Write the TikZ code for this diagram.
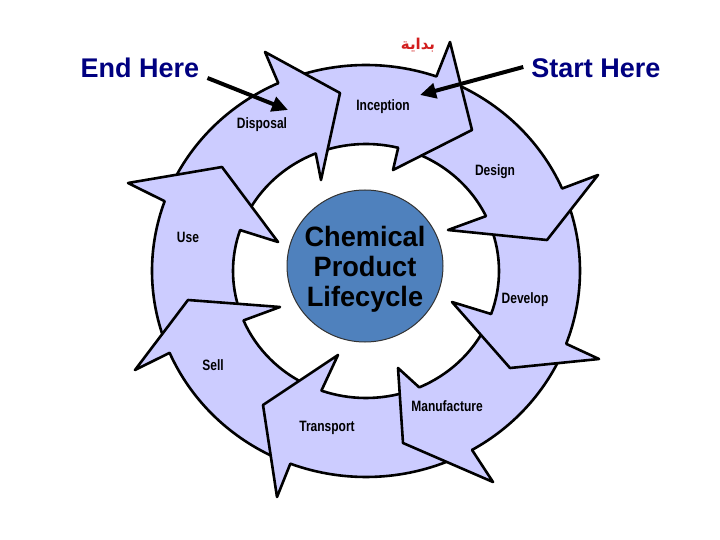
\documentclass[tikz,border=0pt]{standalone}
\usepackage{fontspec}
\setmainfont{Liberation Sans}
\newfontfamily\narrowfont{Liberation Sans}[FakeStretch=0.8]
\newfontfamily\centerfont{Liberation Sans}[FakeStretch=0.97]
\newfontfamily\arabicfont[Script=Arabic]{DejaVu Sans}
\TeXXeTstate=1
\usetikzlibrary{arrows.meta,calc,shapes.geometric}
\definecolor{ringfill}{RGB}{204,204,255}
\definecolor{navytext}{RGB}{0,0,128}
\definecolor{hubblue}{RGB}{79,129,189}
\definecolor{arabred}{RGB}{210,30,30}
% body of one ring arrow: #1 outer start, #2 inner start, #3 outer end, #4 inner end (compass degrees)
\newcommand{\ArrBody}[4]{%
  \fill[ringfill] ($(c)+({90-(#1)}:214pt and 206pt)$)
     arc[start angle={90-(#1)}, end angle={90-(#3)-0.8}, x radius=214pt, y radius=206pt]
     -- ($(c)+({90-(#4)-0.8}:133pt and 127pt)$)
     arc[start angle={90-(#4)-0.8}, end angle={90-(#2)}, x radius=133pt, y radius=127pt] -- cycle;
  \draw[ringline] ($(c)+({90-(#1)}:214pt and 206pt)$)
     arc[start angle={90-(#1)}, end angle={90-(#3)}, x radius=214pt, y radius=206pt];
  \draw[ringline] ($(c)+({90-(#2)}:133pt and 127pt)$)
     arc[start angle={90-(#2)}, end angle={90-(#4)}, x radius=133pt, y radius=127pt];
}
% head of one ring arrow: #1 outer base, #2 inner base (compass), #3 outer barb, #4 tip, #5 inner barb
\newcommand{\ArrHead}[5]{%
  \fill[ringfill] ($(c)+({90-(#1)}:214pt and 206pt)$) -- #3 -- #4 -- #5
     -- ($(c)+({90-(#2)}:133pt and 127pt)$) -- cycle;
  \draw[ringline] ($(c)+({90-(#1)}:214pt and 206pt)$) -- #3 -- #4 -- #5
     -- ($(c)+({90-(#2)}:133pt and 127pt)$);
}
\begin{document}
\begin{tikzpicture}[x=1pt,y=1pt,
  ringline/.style={line width=2.6pt, line cap=round, line join=round, draw=black},
  seglbl/.style={font=\narrowfont\bfseries\fontsize{15}{15}\selectfont, inner sep=0pt},
  herelbl/.style={font=\bfseries\fontsize{27}{27}\selectfont, text=navytext, inner sep=0pt, anchor=base},
  bigarrow/.style={line width=4pt, -{Triangle[length=16pt,width=15pt]}},
  hubstyle/.style={ellipse, draw=black!80, line width=1pt, fill=hubblue, minimum width=156pt, minimum height=152pt, inner sep=0pt},
]
\useasboundingbox (0,0) rectangle (720,-540);
\fill[white] (0,0) rectangle (720,-540);
\coordinate (c) at (366,-271);

% ring bodies
\ArrBody{-21}{-18.5}{19.2}{14}
\ArrBody{23.5}{21}{66.4}{64.4}
\ArrBody{69.8}{70}{110.7}{109.8}
\ArrBody{113.5}{115}{150.3}{156.4}
\ArrBody{153.4}{161}{200.7}{199.6}
\ArrBody{204}{205}{246.6}{247.1}
\ArrBody{250}{251.5}{289.8}{288.8}
\ArrBody{293.5}{295}{335.8}{337.8}

% ring heads
\ArrHead{19.2}{14}{(450,-42)}{(472,-130)}{(393,-170)}
\ArrHead{66.4}{64.4}{(598,-175)}{(547,-240)}{(448,-230)}
\ArrHead{110.7}{109.8}{(599,-359)}{(510,-368)}{(452,-302)}
\ArrHead{150.3}{156.4}{(493,-482)}{(403,-443)}{(398,-368)}
\ArrHead{200.7}{199.6}{(277,-497)}{(263,-405)}{(338,-355)}
\ArrHead{246.6}{247.1}{(135,-370)}{(188,-300)}{(280,-307)}
\ArrHead{289.8}{288.8}{(128,-183)}{(222,-167)}{(278,-242)}
\ArrHead{335.8}{337.8}{(265,-52)}{(340,-93)}{(321,-180)}

% segment labels
\node[seglbl] (inception) at (383,-107) {Inception};
\node[seglbl] (design) at (495,-172) {Design};
\node[seglbl] (develop) at (525,-300) {Develop};
\node[seglbl] (manufacture) at (447,-406) {Manufacture};
\node[seglbl] (transport) at (327,-428) {Transport};
\node[seglbl] (sell) at (213,-365) {Sell};
\node[seglbl] (use) at (188,-237) {Use};
\node[seglbl] (disposal) at (262,-125) {Disposal};

% hub
\node[hubstyle] (hub) at (365,-266) {};
\node[font=\centerfont\bfseries\fontsize{28}{30}\selectfont, align=center, inner sep=0pt] (hubtext) at (365,-269.3) {Chemical\\Product\\Lifecycle};

% arabic
\node[font=\arabicfont\bfseries\fontsize{15}{15}\selectfont, text=arabred, inner sep=0pt] (arab) at (418,-45) {\beginR بداية\endR};

% start / end labels
\node[herelbl] (endlbl) at (140,-78) {End Here};
\node[herelbl] (startlbl) at (596,-78) {Start Here};
\coordinate (endtip) at (288,-110);
\coordinate (starttip) at (420,-95);
\draw[bigarrow] ([xshift=8pt]endlbl.base east) -- (endtip);
\draw[bigarrow] ([xshift=-8pt,yshift=11pt]startlbl.base west) -- (starttip);
\end{tikzpicture}
\end{document}
